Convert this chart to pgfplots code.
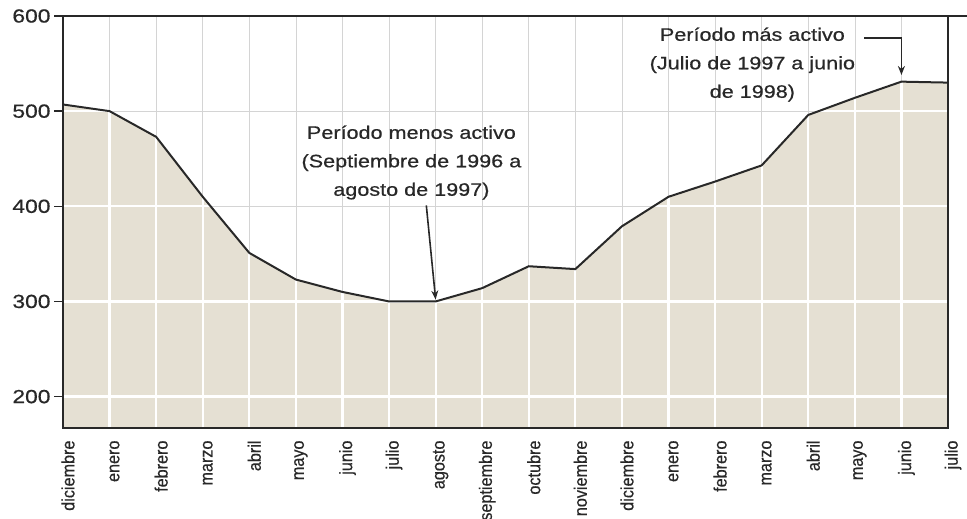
\documentclass[border=0pt]{standalone}
\usepackage{fontspec}
\setmainfont{Liberation Sans}
\newfontfamily\widefont[FakeStretch=1.2,FakeBold=0.6]{Liberation Sans}
\newfontfamily\narrowfont[FakeStretch=0.9,FakeBold=0.5]{Liberation Sans}
\usepackage{pgfplots}
\pgfplotsset{compat=1.18}
\usepackage{pgfplotstable}
\usetikzlibrary{arrows.meta}
\definecolor{fillc}{RGB}{229,224,211}
\definecolor{ink}{RGB}{40,40,40}
\definecolor{gridc}{RGB}{212,212,212}

\pgfplotstableread{
x v
0 507
1 500
2 473
3 410
4 351
5 323
6 310
7 300
8 300
9 314
10 337
11 334
12 379
13 410
14 426
15 443
16 496
17 514
18 531
19 530
}\data

\begin{document}
\begin{tikzpicture}
\useasboundingbox (-63pt,-91pt) rectangle (904pt,428pt);
\begin{axis}[
  name=ax,
  at={(0,0)}, anchor=south west,
  scale only axis, width=885pt, height=412pt,
  xmin=0, xmax=19, ymin=167, ymax=600,
  xtick={0,...,19},
  xticklabels={diciembre,enero,febrero,marzo,abril,mayo,junio,julio,agosto,septiembre,octubre,noviembre,diciembre,enero,febrero,marzo,abril,mayo,junio,julio},
  x tick label style={xshift=5pt, rotate=90, anchor=east, font=\narrowfont\fontsize{18}{18}\selectfont, text=ink},
  ytick={200,300,400,500,600},
  ytick pos=left,
  xtick pos=bottom,
  y tick label style={font=\widefont\fontsize{19}{19}\selectfont, text=ink},
  /pgf/number format/assume math mode=true,
  tick align=outside,
  major tick length=9pt,
  xtick style={draw=none},
  ytick style={ink, line width=1.4pt},
  grid=major,
  grid style={gridc, line width=0.6pt},
  axis line style={draw=none},
  clip mode=individual,
]
\addplot[draw=none, fill=fillc] table[x=x, y=v] {\data} \closedcycle;
% white grid lines over the filled area
\addplot[ycomb, draw=white, line width=2.2pt, mark=none] table[x=x, y=v] {\data};
\addplot[draw=white, line width=2.2pt] coordinates {(0,200) (19,200)};
\addplot[draw=white, line width=2.2pt] coordinates {(0,300) (19,300)};
\addplot[draw=white, line width=2.2pt] coordinates {(0,400) (3.17,400)};
\addplot[draw=white, line width=2.2pt] coordinates {(12.68,400) (19,400)};
\addplot[draw=white, line width=2.2pt] coordinates {(0,500) (1,500)};
\addplot[draw=white, line width=2.2pt] coordinates {(16.22,500) (19,500)};
% curve
\addplot[ink, line width=2pt] table[x=x, y=v] {\data};
% frame
\draw[ink, line width=2.4pt] (rel axis cs:0,0) rectangle (rel axis cs:1,1);
% annotations
\node[align=center, font=\widefont\fontsize{18}{28.5}\selectfont, text=ink] at (axis cs:7.48,446) {Período menos activo\\(Septiembre de 1996 a\\agosto de 1997)};
\draw[ink, line width=1.6pt, -{Stealth[length=9pt,width=7pt]}] (axis cs:7.8,401) -- (axis cs:8,302);
\node[align=center, font=\widefont\fontsize{18}{28.5}\selectfont, text=ink] at (axis cs:14.8,549) {Período más activo\\(Julio de 1997 a junio\\de 1998)};
\draw[ink, line width=1.6pt, -{Stealth[length=9pt,width=7pt]}] (axis cs:17.2,577) -- (axis cs:18,577) -- (axis cs:18,538);
\end{axis}
\draw[ink, line width=2.4pt] (ax.north east) -- ++(19pt,0);
\end{tikzpicture}
\end{document}
